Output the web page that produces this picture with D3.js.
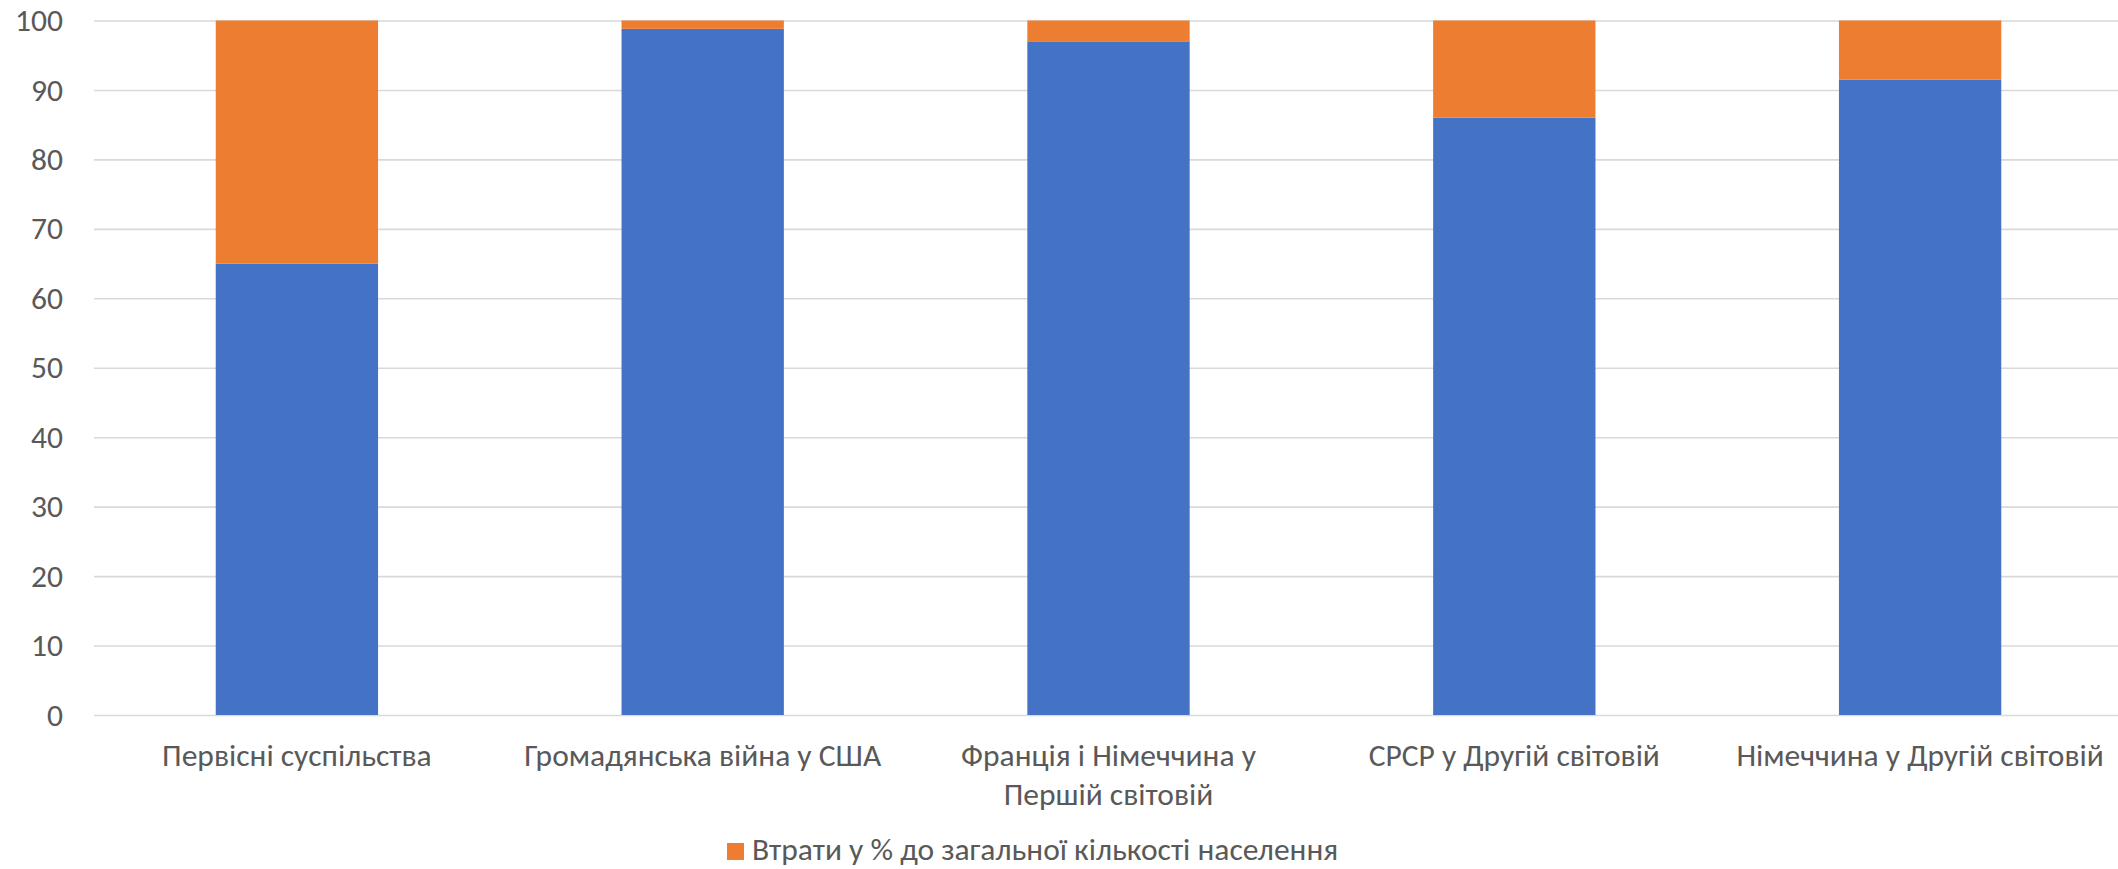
<html>
<head>
<meta charset="utf-8"/>
<script src="https://d3js.org/d3.v7.min.js"></script>
<style>
  body{margin:0;background:#fff;}
  text{font-family:"Carlito","Liberation Sans",sans-serif;fill:#595959;}
</style>
</head>
<body>
<svg id="chart" width="2118" height="869"></svg>
<script>
// data
var categories = ["Первісні суспільства", "Громадянська війна у США", "Франція і Німеччина у\nПершій світовій", "СРСР у Другій світовій", "Німеччина у Другій світовій"];
var survived = [65, 98.8, 97, 86, 91.5];
var losses = [35, 1.2, 3, 14, 8.5];
var yTicks = [0, 10, 20, 30, 40, 50, 60, 70, 80, 90, 100];
var legendLabel = "Втрати у % до загальної кількості населення";

var svg = d3.select("#chart");
var pLeft = 94, pRight = 2123, pTop = 20.5, pBottom = 715;
var fs = "31.5px";

var x = d3.scaleBand().domain(categories).range([pLeft, pRight]).paddingInner(0.6).paddingOuter(0.3);
var y = d3.scaleLinear().domain([0, 100]).range([pBottom, pTop]);

// gridlines + y labels
var yAxis = svg.append("g").attr("transform", "translate(" + pLeft + ",0)")
    .call(d3.axisLeft(y).tickValues(yTicks).tickSize(-(pRight - pLeft)).tickPadding(31));
yAxis.select(".domain").remove();
yAxis.selectAll(".tick line").attr("stroke", "#d9d9d9").attr("stroke-width", 1.6);
yAxis.selectAll(".tick text").style("font-size", fs).style("font-family", null).attr("fill", "#595959");

var rows = categories.map(function(c, i){ return {cat: c, a: survived[i], b: losses[i]}; });

svg.append("g").selectAll("rect").data(rows).enter().append("rect")
    .attr("x", function(d){ return x(d.cat); })
    .attr("width", x.bandwidth())
    .attr("y", function(d){ return y(d.a); })
    .attr("height", function(d){ return y(0) - y(d.a); })
    .attr("fill", "#4472c4");

svg.append("g").selectAll("rect").data(rows).enter().append("rect")
    .attr("x", function(d){ return x(d.cat); })
    .attr("width", x.bandwidth())
    .attr("y", function(d){ return y(d.a + d.b); })
    .attr("height", function(d){ return y(d.a) - y(d.a + d.b); })
    .attr("fill", "#ed7d31");

// category labels
var xl = svg.append("g").selectAll("text").data(categories).enter().append("text")
    .attr("text-anchor", "middle")
    .attr("y", 766)
    .style("font-size", fs);
xl.each(function(c){
    var t = d3.select(this), lines = c.split("\n");
    lines.forEach(function(l, i){
        t.append("tspan").attr("x", x(c) + x.bandwidth() / 2).attr("dy", i ? 39 : 0).text(l);
    });
});

// legend (only the losses series is listed)
var lg = svg.append("g").attr("transform", "translate(727,843)");
lg.append("rect").attr("width", 17).attr("height", 17).attr("fill", "#ed7d31");
lg.append("text").attr("x", 25).attr("y", 17).style("font-size", fs).text(legendLabel);
</script>
</body>
</html>
